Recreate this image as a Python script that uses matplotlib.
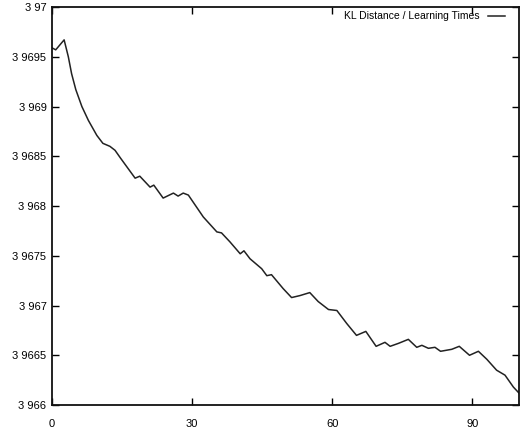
import matplotlib
matplotlib.use("Agg")
import matplotlib.pyplot as plt
from matplotlib.ticker import FixedLocator

# KL distance vs. learning times
learning_times = [0, 0.8, 2.6, 3.5, 4.2, 5.1, 6.4, 7.8, 9.6, 10.9, 12.4, 13.5,
                  14.7, 17.8, 18.8, 21.0, 21.8, 23.8, 26.0, 27.0, 28.1, 29.2,
                  32.4, 35.3, 36.3, 38.1, 40.3, 41.1, 42.4, 44.9, 46.0, 47.0,
                  49.5, 51.3, 53.1, 55.2, 57.0, 59.2, 61.0, 63.1, 65.2, 67.2,
                  69.4, 71.3, 72.4, 74.2, 76.3, 78.1, 79.2, 80.6, 82.0, 83.2,
                  85.6, 87.2, 89.4, 91.3, 93.1, 95.2, 97.0, 98.8, 100]
kl_distance = [3.96959, 3.96957, 3.96967, 3.96950, 3.96933, 3.96917, 3.96900,
               3.96886, 3.96871, 3.96863, 3.96860, 3.96856, 3.96848, 3.96828,
               3.96830, 3.96819, 3.96821, 3.96808, 3.96813, 3.96810, 3.96813,
               3.96811, 3.96789, 3.96774, 3.96773, 3.96764, 3.96752, 3.96755,
               3.96747, 3.96737, 3.96730, 3.96731, 3.96717, 3.96708, 3.96710,
               3.96713, 3.96704, 3.96696, 3.96695, 3.96682, 3.96670, 3.96674,
               3.96659, 3.96663, 3.96659, 3.96662, 3.96666, 3.96658, 3.96660,
               3.96657, 3.96658, 3.96654, 3.96656, 3.96659, 3.96650, 3.96654,
               3.96646, 3.96635, 3.96630, 3.96618, 3.96612]

x_ticks = [0, 30, 60, 90]
y_ticks = [3.966, 3.9665, 3.967, 3.9675, 3.968, 3.9685, 3.969, 3.9695, 3.97]
y_tick_labels = ["3 966", "3 9665", "3 967", "3 9675", "3 968", "3 9685",
                 "3 969", "3 9695", "3 97"]

plt.rcParams['font.family'] = ['Liberation Sans', 'DejaVu Sans']

fig = plt.figure(figsize=(5.23, 4.4), dpi=100)
ax = fig.add_axes([0.0994, 0.0795, 0.893, 0.9045])

ax.plot(learning_times, kl_distance, color='#222222', linewidth=1.1,
        label='KL Distance / Learning Times')

ax.set_xlim(0, 100)
ax.set_ylim(3.966, 3.97)
ax.xaxis.set_major_locator(FixedLocator(x_ticks))
ax.set_yticks(y_ticks)
ax.set_yticklabels(y_tick_labels)
ax.tick_params(direction='in', length=5, width=1, labelsize=8,
               top=True, right=True)
ax.tick_params(axis='x', pad=10)
ax.tick_params(axis='y', pad=4)

for s in ax.spines.values():
    s.set_linewidth(1.3)
    s.set_color('#111111')

leg = ax.legend(loc='upper right', bbox_to_anchor=(0.985, 1.008),
                frameon=False, fontsize=7.5, handlelength=1.6,
                markerfirst=False, borderaxespad=0.3, handletextpad=0.8)

fig.savefig('out.png', dpi=100)
